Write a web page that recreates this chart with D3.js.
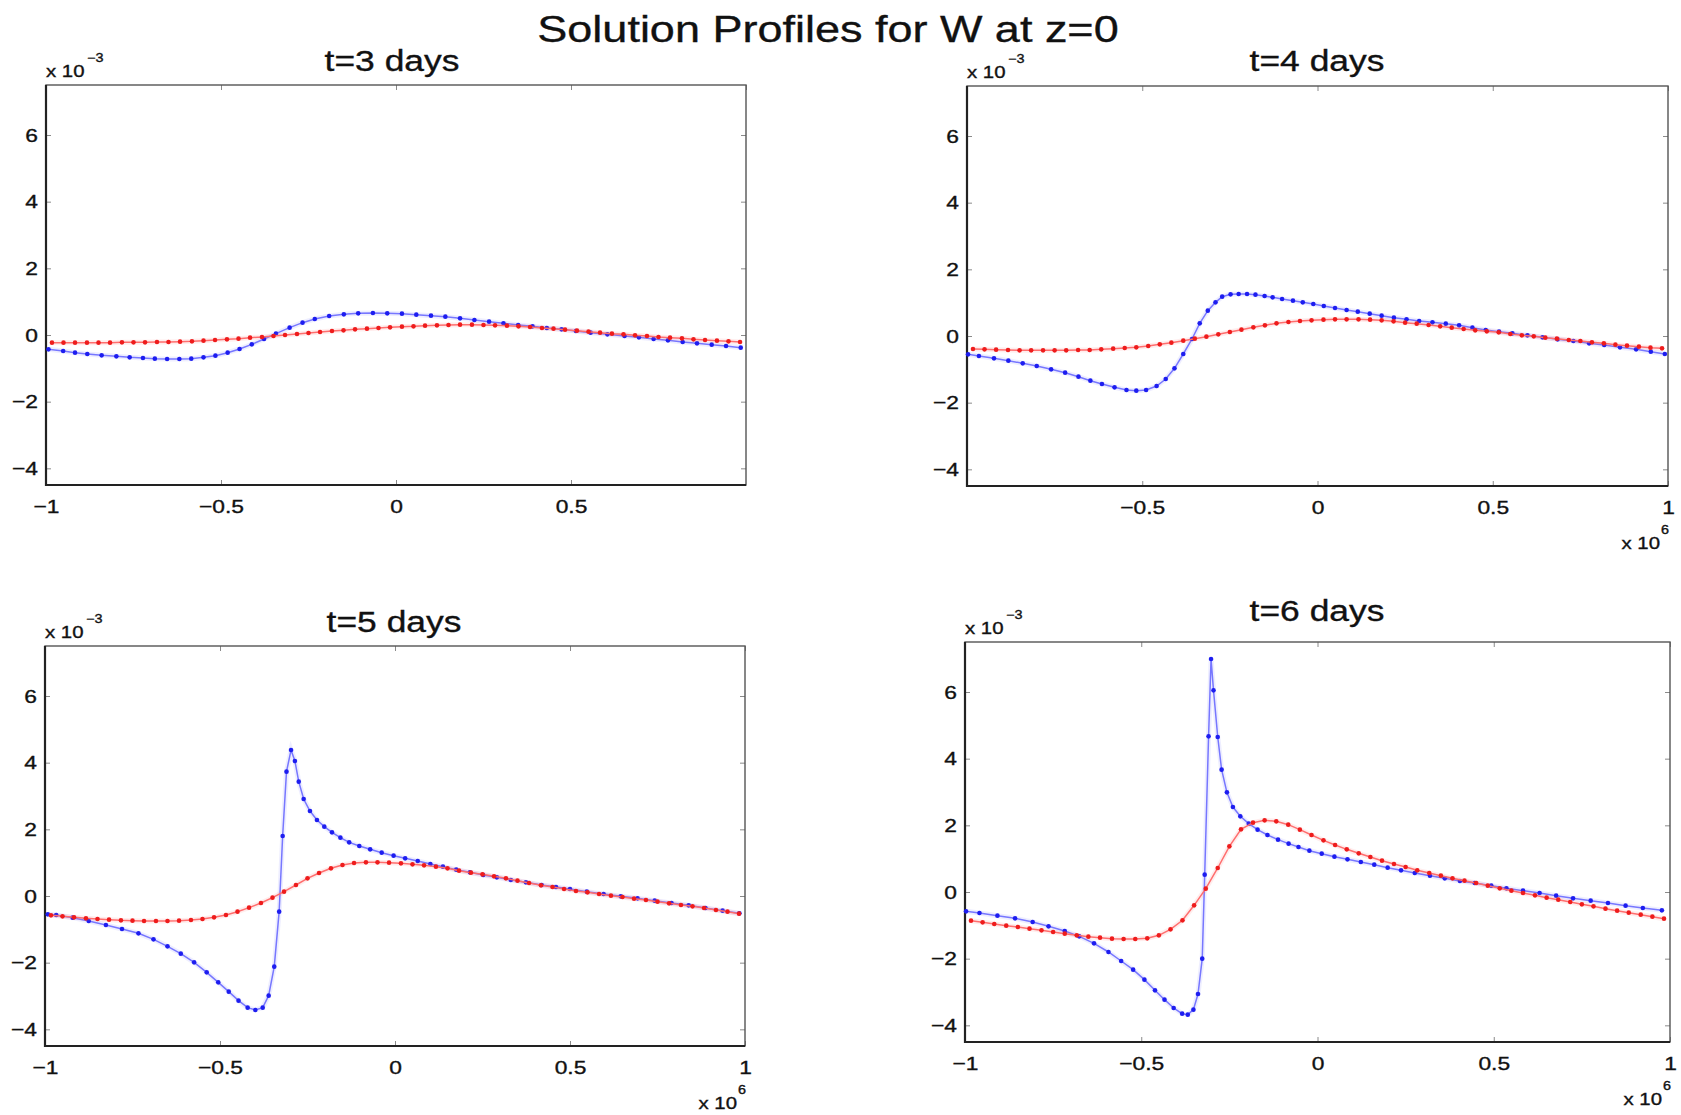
<!DOCTYPE html>
<html>
<head>
<meta charset="utf-8">
<script src="https://cdn.jsdelivr.net/npm/d3@7"></script>
<style>
  body { margin: 0; background: #fff; }
  svg text { font-family: "Liberation Sans", Arial, Helvetica, sans-serif; fill: #111; stroke: #111; stroke-width: 0.35px; }
</style>
</head>
<body>
<svg id="fig" width="1681" height="1115"></svg>
<script>
// x grid of the red (fixed mesh) solution, units of 10^6
var xr = [-0.983,-0.950,-0.917,-0.883,-0.850,-0.817,-0.783,-0.750,-0.717,-0.683,
          -0.650,-0.617,-0.583,-0.550,-0.517,-0.483,-0.450,-0.417,-0.383,-0.350,
          -0.317,-0.283,-0.250,-0.217,-0.183,-0.150,-0.117,-0.083,-0.050,-0.017,
           0.017, 0.050, 0.083, 0.117, 0.150, 0.183, 0.217, 0.250, 0.283, 0.317,
           0.350, 0.383, 0.417, 0.450, 0.483, 0.517, 0.550, 0.583, 0.617, 0.650,
           0.683, 0.717, 0.750, 0.783, 0.817, 0.850, 0.883, 0.917, 0.950, 0.983];

// t=3 days (W in units of 10^-3)
var x3b = [-0.993,-0.951,-0.917,-0.882,-0.841,-0.799,-0.761,-0.723,-0.689,-0.654,-0.619,-0.585,-0.550,-0.516,-0.481,-0.447,-0.412,-0.377,-0.343,-0.304,-0.267,-0.232,-0.191,-0.149,-0.108,-0.066,-0.025,0.017,0.058,0.100,0.141,0.183,0.224,0.266,0.307,0.349,0.390,0.431,0.473,0.514,0.556,0.604,0.653,0.694,0.736,0.777,0.819,0.860,0.902,0.943,0.985];
var w3b = [-0.43,-0.48,-0.53,-0.57,-0.61,-0.64,-0.67,-0.69,-0.71,-0.72,-0.72,-0.71,-0.67,-0.62,-0.53,-0.42,-0.28,-0.12,0.04,0.22,0.37,0.48,0.57,0.62,0.65,0.66,0.65,0.64,0.61,0.58,0.55,0.50,0.45,0.40,0.35,0.30,0.26,0.21,0.17,0.12,0.07,0.02,-0.03,-0.07,-0.12,-0.16,-0.21,-0.25,-0.29,-0.33,-0.38];
var w3r = [-0.23,-0.23,-0.23,-0.23,-0.23,-0.23,-0.22,-0.22,-0.22,-0.21,-0.21,-0.20,-0.19,-0.17,-0.15,-0.13,-0.11,-0.08,-0.06,-0.03,0.00,0.03,0.06,0.09,0.12,0.14,0.17,0.19,0.21,0.23,0.25,0.26,0.28,0.29,0.30,0.31,0.31,0.30,0.29,0.28,0.26,0.24,0.21,0.19,0.16,0.13,0.10,0.07,0.04,0.02,-0.01,-0.03,-0.06,-0.08,-0.10,-0.13,-0.15,-0.17,-0.19,-0.21];

// t=4 days
var x4b = [-0.997,-0.966,-0.923,-0.882,-0.841,-0.801,-0.760,-0.720,-0.682,-0.648,-0.615,-0.579,-0.545,-0.517,-0.489,-0.459,-0.433,-0.408,-0.383,-0.358,-0.336,-0.313,-0.291,-0.272,-0.248,-0.225,-0.201,-0.177,-0.151,-0.128,-0.101,-0.070,-0.042,-0.012,0.018,0.050,0.083,0.115,0.149,0.183,0.218,0.254,0.290,0.328,0.366,0.404,0.442,0.480,0.518,0.556,0.599,0.642,0.685,0.730,0.775,0.818,0.863,0.909,0.951,0.991];
var w4b = [-0.55,-0.60,-0.67,-0.74,-0.82,-0.90,-1.00,-1.10,-1.22,-1.34,-1.44,-1.54,-1.62,-1.64,-1.62,-1.50,-1.29,-0.97,-0.54,-0.09,0.38,0.76,1.01,1.18,1.25,1.26,1.26,1.24,1.20,1.16,1.11,1.06,1.01,0.96,0.90,0.84,0.78,0.73,0.67,0.61,0.55,0.50,0.45,0.41,0.37,0.32,0.25,0.18,0.13,0.08,0.02,-0.04,-0.10,-0.15,-0.22,-0.27,-0.34,-0.40,-0.47,-0.54];
var w4r = [-0.39,-0.40,-0.41,-0.42,-0.43,-0.43,-0.43,-0.43,-0.43,-0.42,-0.42,-0.40,-0.38,-0.36,-0.34,-0.30,-0.25,-0.20,-0.14,-0.08,-0.02,0.05,0.12,0.19,0.26,0.32,0.38,0.42,0.45,0.47,0.49,0.50,0.50,0.50,0.49,0.47,0.44,0.40,0.37,0.33,0.29,0.25,0.21,0.17,0.14,0.11,0.06,0.02,-0.01,-0.05,-0.08,-0.12,-0.15,-0.19,-0.22,-0.26,-0.29,-0.32,-0.35,-0.37];

// t=5 days
var x5b = [-0.992,-0.968,-0.921,-0.875,-0.826,-0.780,-0.733,-0.690,-0.650,-0.612,-0.574,-0.538,-0.505,-0.475,-0.447,-0.421,-0.399,-0.378,-0.361,-0.345,-0.331,-0.321,-0.310,-0.297,-0.286,-0.275,-0.261,-0.243,-0.223,-0.202,-0.180,-0.156,-0.131,-0.102,-0.071,-0.038,-0.004,0.029,0.065,0.101,0.137,0.175,0.214,0.252,0.291,0.331,0.374,0.419,0.460,0.500,0.548,0.596,0.645,0.693,0.742,0.790,0.839,0.887,0.936,0.984];
var w5b = [-0.55,-0.57,-0.65,-0.75,-0.87,-0.99,-1.12,-1.30,-1.51,-1.73,-1.99,-2.29,-2.59,-2.87,-3.14,-3.35,-3.42,-3.35,-2.99,-2.12,-0.47,1.80,3.73,4.38,4.05,3.43,2.91,2.55,2.28,2.08,1.91,1.75,1.61,1.50,1.40,1.30,1.21,1.13,1.05,0.96,0.88,0.79,0.71,0.63,0.56,0.48,0.41,0.33,0.27,0.21,0.13,0.06,-0.01,-0.07,-0.14,-0.21,-0.28,-0.36,-0.44,-0.52];
var w5r = [-0.58,-0.61,-0.64,-0.67,-0.69,-0.71,-0.73,-0.74,-0.75,-0.75,-0.75,-0.74,-0.72,-0.69,-0.64,-0.57,-0.47,-0.35,-0.21,-0.05,0.13,0.33,0.53,0.69,0.83,0.93,0.99,1.01,1.01,1.00,0.98,0.95,0.92,0.88,0.83,0.76,0.70,0.65,0.59,0.53,0.46,0.39,0.32,0.27,0.21,0.15,0.11,0.06,0.01,-0.03,-0.08,-0.12,-0.17,-0.22,-0.27,-0.31,-0.36,-0.42,-0.47,-0.53];

// t=6 days
var x6b = [-0.997,-0.959,-0.908,-0.858,-0.808,-0.763,-0.717,-0.676,-0.634,-0.593,-0.557,-0.523,-0.491,-0.461,-0.434,-0.408,-0.384,-0.368,-0.352,-0.339,-0.327,-0.320,-0.309,-0.302,-0.295,-0.283,-0.272,-0.257,-0.240,-0.219,-0.195,-0.170,-0.142,-0.112,-0.082,-0.054,-0.023,0.012,0.048,0.085,0.123,0.161,0.199,0.237,0.276,0.319,0.361,0.404,0.446,0.493,0.536,0.583,0.630,0.677,0.725,0.775,0.824,0.874,0.923,0.977];
var w6b = [-0.58,-0.63,-0.71,-0.79,-0.90,-1.03,-1.17,-1.33,-1.54,-1.80,-2.07,-2.33,-2.63,-2.95,-3.23,-3.48,-3.65,-3.68,-3.53,-3.06,-2.00,0.52,4.67,6.99,6.05,4.65,3.67,2.99,2.55,2.27,2.05,1.87,1.71,1.57,1.45,1.35,1.24,1.15,1.06,0.98,0.90,0.82,0.73,0.65,0.57,0.49,0.41,0.33,0.27,0.19,0.11,0.04,-0.03,-0.11,-0.19,-0.26,-0.33,-0.41,-0.48,-0.55];
var w6r = [-0.86,-0.91,-0.96,-1.01,-1.05,-1.10,-1.15,-1.20,-1.25,-1.30,-1.34,-1.37,-1.40,-1.41,-1.41,-1.39,-1.30,-1.12,-0.85,-0.40,0.10,0.72,1.37,1.88,2.08,2.15,2.12,2.02,1.87,1.71,1.55,1.41,1.28,1.16,1.05,0.94,0.84,0.75,0.65,0.57,0.49,0.41,0.34,0.27,0.19,0.11,0.04,-0.03,-0.10,-0.17,-0.23,-0.30,-0.37,-0.43,-0.50,-0.56,-0.62,-0.68,-0.74,-0.80];

var yTicks = [-4, -2, 0, 2, 4, 6];
var titles = ['t=3 days', 't=4 days', 't=5 days', 't=6 days'];

// subplot placement (pixels)
var panels = [
  {title: titles[0], xb: x3b, wb: w3b, wr: w3r, L: 46,  R: 746,  T: 85,  B: 485,  xt: [-1, -0.5, 0, 0.5],    e6: false, tx: 392,  ty: 71},
  {title: titles[1], xb: x4b, wb: w4b, wr: w4r, L: 967, R: 1668, T: 86,  B: 486,  xt: [-0.5, 0, 0.5, 1],     e6: true,  tx: 1317, ty: 71},
  {title: titles[2], xb: x5b, wb: w5b, wr: w5r, L: 45,  R: 745,  T: 646, B: 1046, xt: [-1, -0.5, 0, 0.5, 1], e6: true,  tx: 394,  ty: 632},
  {title: titles[3], xb: x6b, wb: w6b, wr: w6r, L: 965, R: 1670, T: 642, B: 1042, xt: [-1, -0.5, 0, 0.5, 1], e6: true,  tx: 1317, ty: 621}
];

var SX = 1.2; // the figure is stretched sideways, so is its lettering
var svg = d3.select('#fig');

function label(g, x, y, str, size, anchor) {
  return g.append('text')
    .attr('transform', 'translate(' + x + ',' + y + ') scale(' + SX + ',1)')
    .attr('text-anchor', anchor || 'start')
    .style('font-size', size + 'px')
    .text(str);
}

function fmt(d) {
  return d < 0 ? '\u2212' + Math.abs(d) : '' + d;
}

label(svg, 828, 42, 'Solution Profiles for W at z=0', 37.5, 'middle');

panels.forEach(function (p) {
  var g = svg.append('g');
  var x = d3.scaleLinear().domain([-1, 1]).range([p.L, p.R]);
  var y = d3.scaleLinear().domain([-4.5, 7.5]).range([p.B, p.T]);

  // inward ticks on all four sides
  g.append('g').attr('transform', 'translate(0,' + p.B + ')')
    .call(d3.axisBottom(x).tickValues(p.xt).tickSize(-5).tickPadding(14.5).tickFormat(fmt))
    .call(function (a) { a.select('.domain').remove(); });
  g.append('g').attr('transform', 'translate(0,' + p.T + ')')
    .call(d3.axisTop(x).tickValues([-1, -0.5, 0, 0.5, 1]).tickSize(-5).tickFormat(''))
    .call(function (a) { a.select('.domain').remove(); });
  g.append('g').attr('transform', 'translate(' + p.L + ',0)')
    .call(d3.axisLeft(y).tickValues(yTicks).tickSize(-5).tickPadding(8).tickFormat(fmt))
    .call(function (a) { a.select('.domain').remove(); });
  g.append('g').attr('transform', 'translate(' + p.R + ',0)')
    .call(d3.axisRight(y).tickValues(yTicks).tickSize(-5).tickFormat(''))
    .call(function (a) { a.select('.domain').remove(); });

  g.selectAll('.tick line').attr('stroke', '#8a8a8a').attr('stroke-width', 1);
  g.selectAll('.tick text')
    .attr('fill', '#111')
    .style('font-size', '19px')
    .style('font-family', '"Liberation Sans", Arial, Helvetica, sans-serif')
    .attr('transform', 'scale(' + SX + ',1)');
  g.selectAll('.tick text').filter(function () { return +d3.select(this).attr('x') < 0; })
    .attr('x', -8 / SX);

  // box
  g.append('rect')
    .attr('x', p.L).attr('y', p.T)
    .attr('width', p.R - p.L).attr('height', p.B - p.T)
    .attr('fill', 'none').attr('stroke', '#555').attr('stroke-width', 1.4);
  g.append('path')
    .attr('d', 'M' + p.L + ',' + p.T + 'V' + p.B + 'H' + p.R)
    .attr('fill', 'none').attr('stroke', '#222').attr('stroke-width', 2.2);

  // the two solutions, blue first then red
  var series = [
    {pts: d3.zip(p.xb, p.wb), line: '#7777ff', dot: '#1d1df0'},
    {pts: d3.zip(xr, p.wr),   line: '#ff6e6e', dot: '#ee1c1c'}
  ];
  var line = d3.line().x(function (d) { return x(d[0]); }).y(function (d) { return y(d[1]); });
  series.forEach(function (s) {
    g.append('path').attr('d', line(s.pts))
      .attr('fill', 'none').attr('stroke', s.line).attr('stroke-width', 5).attr('stroke-opacity', 0.12);
    g.append('path').attr('d', line(s.pts))
      .attr('fill', 'none').attr('stroke', s.line).attr('stroke-width', 1.5);
    g.selectAll(null).data(s.pts).enter().append('circle')
      .attr('cx', function (d) { return x(d[0]); })
      .attr('cy', function (d) { return y(d[1]); })
      .attr('r', 2.3)
      .attr('fill', s.dot);
  });

  // titles and exponent labels
  label(g, p.tx, p.ty, p.title, 29.5, 'middle');
  label(g, p.L, p.T - 8.5, 'x 10', 17, 'start');
  label(g, p.L + 41, p.T - 23, '\u22123', 12, 'start');
  if (p.e6) {
    label(g, p.R - 8, p.B + 63, 'x 10', 17, 'end');
    label(g, p.R - 7, p.B + 48, '6', 12, 'start');
  }
});
</script>
</body>
</html>
